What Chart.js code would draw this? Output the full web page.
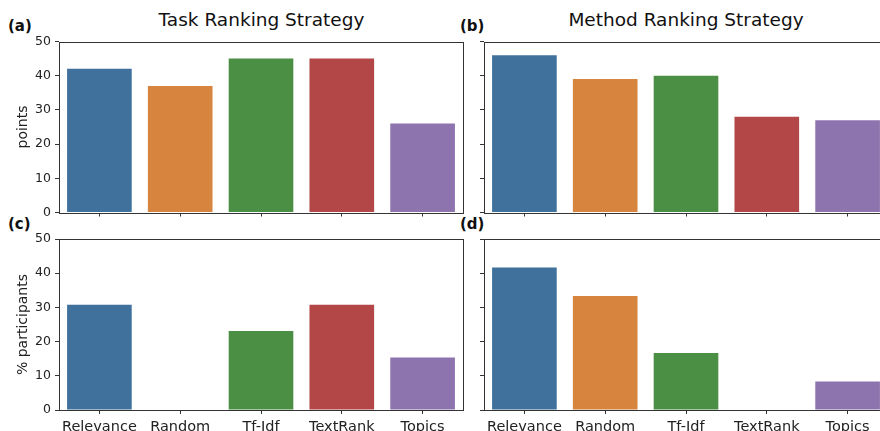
<!DOCTYPE html>
<html>
<head>
<meta charset="utf-8">
<script src="https://cdn.jsdelivr.net/npm/chart.js@4"></script>
<style>
  html, body { margin:0; padding:0; width:880px; height:431px; overflow:hidden; background:#fff; }
  body { position:relative; font-family:"DejaVu Sans", sans-serif; }
  canvas { position:absolute; }
  .title { position:absolute; font-size:18.5px; line-height:18px; color:#111; white-space:nowrap; transform:translateX(-50%); }
  .lab { position:absolute; font-size:15px; line-height:15px; font-weight:bold; color:#111; }
</style>
</head>
<body>
<div class="title" style="left:261.5px; top:11px;">Task Ranking Strategy</div>
<div class="title" style="left:686px; top:11px;">Method Ranking Strategy</div>
<div class="lab" style="left:8px; top:19px;">(a)</div>
<div class="lab" style="left:460px; top:19px;">(b)</div>
<div class="lab" style="left:8px; top:217px;">(c)</div>
<div class="lab" style="left:460px; top:217px;">(d)</div>
<canvas id="ca"></canvas>
<canvas id="cb"></canvas>
<canvas id="cc"></canvas>
<canvas id="cd"></canvas>
<script>
const categories = ["Relevance", "Random", "Tf-Idf", "TextRank", "Topics"];
const taskPoints = [42, 37, 45, 45, 26];
const methodPoints = [46, 39, 40, 28, 27];
const taskParticipants = [30.77, 0, 23.08, 30.77, 15.38];
const methodParticipants = [41.67, 33.33, 16.67, 0, 8.33];
const yTicks = [0, 10, 20, 30, 40, 50];
const barColors = ["#3f719c", "#d6843e", "#4b8f45", "#b34646", "#8e74ae"];

const boxPlugin = {
  id: 'box',
  afterDraw(chart) {
    const a = chart.chartArea, ctx = chart.ctx;
    ctx.save();
    ctx.strokeStyle = '#333';
    ctx.lineWidth = 1;
    const l = Math.round(a.left) + 0.5, t = Math.round(a.top) + 0.5;
    const r = Math.round(a.right) + 0.5, b = Math.round(a.bottom) + 0.5;
    ctx.strokeRect(l, t, r - l, b - t);
    ctx.restore();
  }
};

function makePanel(id, pos, values, cfg) {
  const cv = document.getElementById(id);
  cv.style.left = pos.x + 'px';
  cv.style.top = pos.y + 'px';
  cv.width = pos.w; cv.height = pos.h;
  return new Chart(cv, {
    type: 'bar',
    data: {
      labels: categories,
      datasets: [{ data: values, backgroundColor: barColors, borderWidth: 0,
                   barPercentage: 0.8, categoryPercentage: 1.0 }]
    },
    options: {
      responsive: false, animation: false, devicePixelRatio: 1,
      layout: { padding: { top: cfg.padTop, right: cfg.padRight, left: 0, bottom: 0 } },
      plugins: { legend: { display: false }, tooltip: { enabled: false } },
      scales: {
        x: {
          type: 'category',
          grid: { display: true, offset: false, drawOnChartArea: false, drawTicks: true, tickLength: 4, color: '#333' },
          border: { display: false },
          ticks: { display: cfg.xLabels, color: '#222', padding: 5, maxRotation: 0, minRotation: 0,
                   autoSkip: false, font: { family: 'DejaVu Sans', size: 14.5 } },
          afterFit(s) { s.height = cfg.xH; s.paddingLeft = 0; s.paddingRight = 0; }
        },
        y: {
          min: 0, max: 50,
          afterBuildTicks(s) { s.ticks = yTicks.map(v => ({ value: v })); },
          grid: { display: true, drawOnChartArea: false, drawTicks: true, tickLength: 4, color: '#333' },
          border: { display: false },
          ticks: { display: cfg.yLabels, color: '#222', padding: 4,
                   font: { family: 'DejaVu Sans', size: 12.5 } },
          title: { display: !!cfg.yTitle, text: cfg.yTitle || '', color: '#222',
                   font: { family: 'DejaVu Sans', size: 14 }, padding: { top: 15, bottom: 0 } },
          afterFit(s) { s.width = cfg.yW; }
        }
      }
    },
    plugins: [boxPlugin]
  });
}

makePanel('ca', { x: 0, y: 0, w: 472, h: 226 }, taskPoints,
  { padTop: 41.5, padRight: 9, xH: 13.5, yW: 59, xLabels: false, yLabels: true, yTitle: 'points' });
makePanel('cb', { x: 472, y: 0, w: 420, h: 226 }, methodPoints,
  { padTop: 41.5, padRight: 4, xH: 13.5, yW: 12, xLabels: false, yLabels: false });
makePanel('cc', { x: 0, y: 226, w: 472, h: 205 }, taskParticipants,
  { padTop: 13, padRight: 9, xH: 21, yW: 59, xLabels: true, yLabels: true, yTitle: '% participants' });
makePanel('cd', { x: 472, y: 226, w: 420, h: 205 }, methodParticipants,
  { padTop: 13, padRight: 4, xH: 21, yW: 12, xLabels: true, yLabels: false });
</script>
</body>
</html>
